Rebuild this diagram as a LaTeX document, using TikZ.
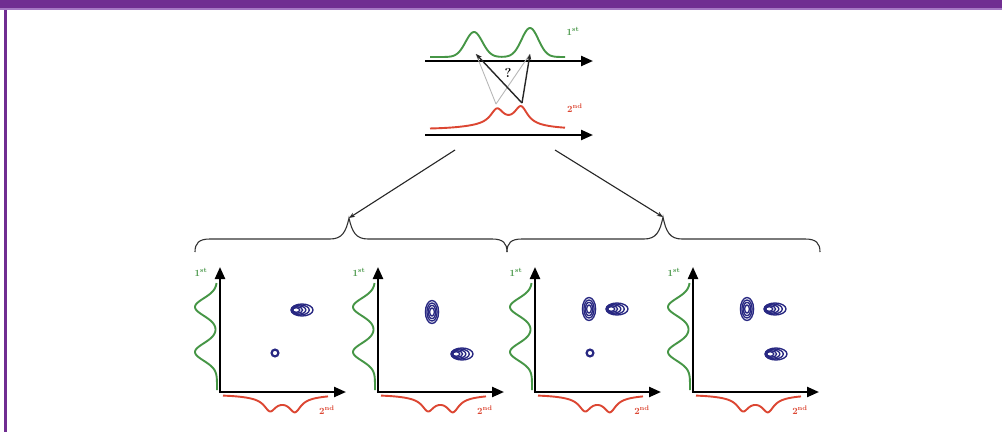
\documentclass[tikz,border=0pt]{standalone}
\usetikzlibrary{arrows.meta}
\definecolor{purp}{RGB}{112,45,145}
\definecolor{purplight}{RGB}{165,120,195}
\definecolor{grn}{RGB}{70,150,70}
\definecolor{rd}{RGB}{220,70,50}
\definecolor{nv}{RGB}{40,40,130}
\begin{document}
\begin{tikzpicture}[x=1pt,y=-1pt,
  axisarrow/.style={line width=2.3pt,-{Triangle[length=12pt,width=10pt]}},
  thinarrow/.style={line width=1.1pt,draw=black!85,-{Stealth[length=6pt,width=4.5pt]}},
  ghost/.style={line width=0.9pt,draw=black!28},
  brace/.style={line width=1.1pt,draw=black!80},
  grncurve/.style={draw=grn,line width=1.9pt},
  redcurve/.style={draw=rd,line width=1.9pt},
  lbl/.style={font=\bfseries\fontsize{9.5}{10}\selectfont,inner sep=0pt},
  contour/.style={draw=nv,line width=1.35pt},
  hpk/.pic={\foreach \r/\s/\d in {11/6/0,9/5/-1.7,7/4.1/-3.2,5.2/3.2/-4.6,3.5/2.3/-5.8}
      \draw[contour] (\d,0) ellipse [x radius=\r pt,y radius=\s pt];},
  vpk/.pic={\foreach \r/\s in {6.6/11.5,5.1/9,3.7/6.6,2.4/4}
      \draw[contour] (0,0) ellipse [x radius=\r pt,y radius=\s pt];},
  cpk/.pic={\draw[contour,line width=2.2pt] (0,0) circle [radius=3.4pt];},
]
\useasboundingbox (0,0) rectangle (1002,432);
% frame
\fill[white] (0,0) rectangle (1002,432);
\fill[purp] (0,0) rectangle (1002,8);
\fill[purplight] (0,8) rectangle (1002,10);
\fill[purp] (4,10) rectangle (6.5,432);

% ---------- top spectra ----------
\draw[grncurve] plot[domain=430:565,samples=120,smooth]
  (\x,{57-25*exp(-((\x-474)^2)/140)-29*exp(-((\x-530)^2)/140)});
\coordinate (ta0) at (425,61);
\coordinate (ta1) at (593,61);
\draw[axisarrow] (ta0) -- (ta1);

\draw[redcurve] plot[domain=430:565,samples=120,smooth]
  (\x,{129-15/(1+((\x-497)/8)^2)-18/(1+((\x-521)/8)^2)-4*exp(-((\x-505)^2)/1800)});
\coordinate (tb0) at (425,135);
\coordinate (tb1) at (593,135);
\draw[axisarrow] (tb0) -- (tb1);

\node[lbl,text=grn] (l1) at (573,31) {1\textsuperscript{st}};
\node[lbl,text=rd] (l2) at (575,108) {2\textsuperscript{nd}};

\coordinate (gp1) at (476,54);
\coordinate (gp2) at (530,54);
\coordinate (rp1) at (496,104);
\coordinate (rp2) at (522,103);
\draw[ghost] (rp1) -- (gp1);
\draw[ghost] (rp1) -- (gp2);
\draw[thinarrow,line width=1.4pt] (rp2) -- (gp1);
\draw[thinarrow,line width=1.4pt] (rp2) -- (gp2);
\node[font=\bfseries\fontsize{13}{14}\selectfont,inner sep=0pt] (q) at (508,73) {?};

% ---------- branch arrows ----------
\coordinate (s1) at (455,150);
\coordinate (s2) at (555,150);
\coordinate (b1) at (349,218);
\coordinate (b2) at (663,217);
\draw[thinarrow] (s1) -- (b1);
\draw[thinarrow] (s2) -- (b2);

% ---------- braces ----------
\draw[brace] (195,252) .. controls (195,243) and (199,239) .. (210,239) -- (330,239)
  .. controls (342,239) and (346,232) .. (b1)
  .. controls (352,232) and (356,239) .. (368,239) -- (492,239)
  .. controls (503,239) and (507,243) .. (507,252);
\draw[brace] (507,252) .. controls (507,243) and (511,239) .. (522,239) -- (644,239)
  .. controls (656,239) and (660,232) .. (b2)
  .. controls (666,232) and (670,239) .. (682,239) -- (805,239)
  .. controls (816,239) and (820,243) .. (820,252);

% ---------- 2D panels ----------
\foreach \X/\k in {220/1,378/2,535/3,693/4}{
  \pgfmathsetmacro\xa{\X+3}
  \pgfmathsetmacro\xb{\X+108}
  \pgfmathsetmacro\xc{\X+126}
  \pgfmathsetmacro\xg{\X-19}
  \pgfmathsetmacro\xr{\X+107}
  \draw[grncurve] plot[variable=\t,domain=283:390,samples=110,smooth]
    ({\X-3-22*exp(-((\t-307)^2)/150)-22*exp(-((\t-352)^2)/150)},\t);
  \draw[redcurve] plot[domain=\xa:\xb,samples=110,smooth]
    (\x,{395+12/(1+((\x-\X-50)/7)^2)+13/(1+((\x-\X-75)/7)^2)+4*exp(-((\x-\X-62)^2)/1200)});
  \coordinate (o\k) at (\X,392);
  \coordinate (y\k) at (\X,267);
  \coordinate (x\k) at (\xc,392);
  \draw[axisarrow] (o\k) -- (y\k);
  \draw[axisarrow] ([xshift=-1.15pt]o\k) -- (x\k);
  \node[lbl,text=grn] (f\k) at (\xg,272) {1\textsuperscript{st}};
  \node[lbl,text=rd] (s\k) at (\xr,410) {2\textsuperscript{nd}};
}

% peaks
\pic at (302,310) {hpk};
\pic at (275,353) {cpk};

\pic at (432,312) {vpk};
\pic at (462,354) {hpk};

\pic at (589,309) {vpk};
\pic at (617,309) {hpk};
\pic at (590,353) {cpk};

\pic at (747,309) {vpk};
\pic at (775,309) {hpk};
\pic at (776,354) {hpk};
\end{tikzpicture}
\end{document}
